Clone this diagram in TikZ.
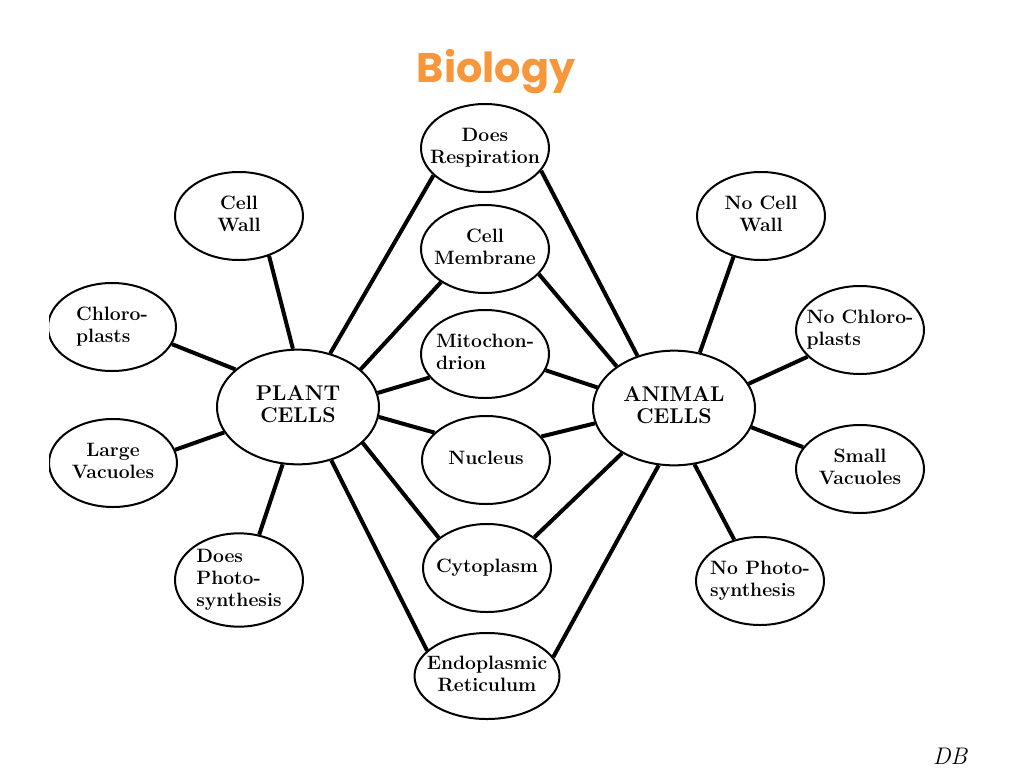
\documentclass[tikz,border=0pt]{standalone}
\usepackage{fontspec}
\usetikzlibrary{shapes.geometric}
\newfontfamily\titlefont{Poppins}
\definecolor{titleorange}{RGB}{247,150,58}
\newcommand\bubtext[2][c]{\makebox[0pt]{\begin{tabular}{@{}#1@{}}#2\end{tabular}}}
\tikzset{every picture/.style={line width=0.75pt}}
\tikzset{
  bubble/.style={draw, ellipse, line width=1.5pt, minimum width=96pt, minimum height=66pt, inner sep=0pt, font=\fontsize{14.5}{16.5}\selectfont\bfseries},
  hub/.style={bubble, minimum width=121.5pt, minimum height=86pt, font=\fontsize{16}{17}\selectfont\bfseries},
  link/.style={line width=3pt},
}

\begin{document}
\begin{tikzpicture}[x=0.75pt,y=0.75pt,yscale=-1,xscale=1]
		\useasboundingbox (0,0) rectangle (1024,768);
		
		%Title
		\node (title) at (496,72) [text=titleorange, font=\titlefont\fontsize{31}{36}\selectfont\bfseries] {Biology};
		
		\begin{scope}
		\clip (49,0) rectangle (1024,768);
		%Shape: Ellipse -- shared
		\node (resp) at (485,148) [bubble] {\bubtext{Does\\Respiration}};
		\node (memb) at (485,249) [bubble] {\bubtext{Cell\\Membrane}};
		\node (mito) at (485,354) [bubble] {\bubtext[l]{Mitochon-\\drion}};
		\node (nucl) at (486,460) [bubble] {\bubtext{Nucleus}};
		\node (cyto) at (487,568) [bubble] {\bubtext{Cytoplasm}};
		\node (er) at (487,676) [bubble, minimum width=108.75pt, minimum height=64.5pt] {\bubtext{Endoplasmic\\Reticulum}};
		
		%Shape: Ellipse -- plant side
		\node (plant) at (298,407) [hub] {\bubtext{PLANT\\CELLS}};
		\node (cwall) at (239,216) [bubble] {\bubtext{Cell\\Wall}};
		\node (chloro) at (112,327) [bubble] {\bubtext[l]{Chloro-\\plasts}};
		\node (largev) at (113,463) [bubble] {\bubtext{Large\\Vacuoles}};
		\node (dphoto) at (239,580) [bubble] {\bubtext[l]{Does\\Photo-\\synthesis}};
		
		%Shape: Ellipse -- animal side
		\node (animal) at (674,408) [hub] {\bubtext{ANIMAL\\CELLS}};
		\node (ncwall) at (761,216) [bubble] {\bubtext{No Cell\\Wall}};
		\node (nchloro) at (860,330) [bubble] {\bubtext[l]{No Chloro-\\plasts}};
		\node (smallv) at (860,469) [bubble] {\bubtext{Small\\Vacuoles}};
		\node (nphoto) at (760,581) [bubble] {\bubtext[l]{No Photo-\\synthesis}};
		\end{scope}
		
		%Lines: plant cells
		\draw [link] (plant.95) -- (cwall.-53) ;
		\draw [link] (plant.149) -- (chloro.-16) ;
		\draw [link] (plant.199) -- (largev.12) ;
		\draw [link] (plant.255) -- (dphoto.66) ;
		\draw [link] (plant.59) -- (resp.208) ;
		\draw [link] (plant.31) -- (memb.217) ;
		\draw [link] (plant.10) -- (mito.203) ;
		\draw [link] (plant.-7) -- (nucl.152) ;
		\draw [link] (plant.-29) -- (cyto.148) ;
		\draw [link] (plant.-58) -- (er.157) ;
		
		%Lines: animal cells
		\draw [link] (animal.125) -- (resp.-22) ;
		\draw [link] (animal.144) -- (memb.-25) ;
		\draw [link] (animal.165) -- (mito.-15) ;
		\draw [link] (animal.191) -- (nucl.23) ;
		\draw [link] (animal.221) -- (cyto.33) ;
		\draw [link] (animal.255) -- (er.16) ;
		\draw [link] (animal.65) -- (ncwall.236) ;
		\draw [link] (animal.18) -- (nchloro.207) ;
		\draw [link] (animal.-14) -- (smallv.159) ;
		\draw [link] (animal.-70) -- (nphoto.122) ;
		
		%Signature
		\node (sign) at (950,756) [font=\itshape\fontsize{18}{18}\selectfont] {DB};
		
	\end{tikzpicture}
\end{document}
